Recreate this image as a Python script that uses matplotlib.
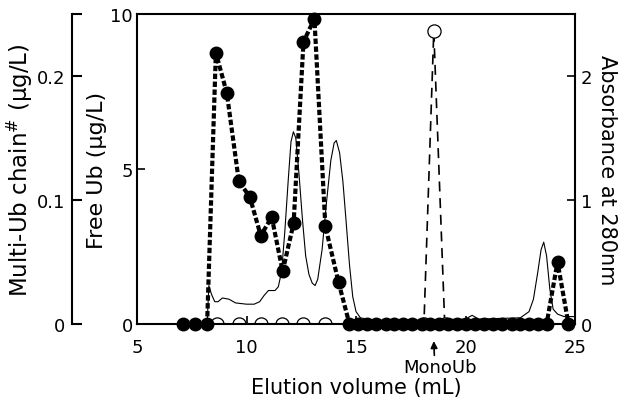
import matplotlib
matplotlib.use("Agg")
import matplotlib.pyplot as plt

plt.rcParams["font.family"] = ["DejaVu Sans"]

# Free Ub (filled circles, middle axis)
free_x = [7.1, 7.65, 8.2, 8.6, 9.1, 9.65, 10.15, 10.65, 11.15, 11.65, 12.15, 12.6,
          13.1, 13.6, 14.2, 14.7, 15.1, 15.5, 15.9, 16.35, 16.75, 17.15, 17.55,
          18.0, 18.4, 18.8, 19.2, 19.6, 20.0, 20.45, 20.85, 21.25, 21.65, 22.1,
          22.5, 22.9, 23.3, 23.7, 24.2, 24.7]
free_y = [0, 0, 0, 8.75, 7.45, 4.6, 4.1, 2.85, 3.45, 1.7, 3.25, 9.1,
          9.85, 3.15, 1.35, 0, 0, 0, 0, 0, 0, 0, 0,
          0, 0, 0, 0, 0, 0, 0, 0, 0, 0, 0,
          0, 0, 0, 0, 2.0, 0]

# Multi-Ub chain (open circles, far left axis)
multi_x = [8.65, 9.65, 10.65, 11.6, 12.6, 13.6, 18.1, 18.55, 19.05]
multi_y = [0, 0, 0, 0, 0, 0, 0, 0.236, 0]

# Absorbance at 280 nm (thin line, right axis)
abs_x = [5.0, 8.2, 8.28, 8.4, 8.55, 8.7, 8.9, 9.2, 9.5, 10.0, 10.35, 10.6, 10.8,
         11.0, 11.3, 11.45, 11.6, 11.75, 11.9, 12.03, 12.14, 12.25, 12.4, 12.55,
         12.7, 12.85, 13.0, 13.13, 13.25, 13.45, 13.65, 13.85, 14.0, 14.1, 14.25,
         14.4, 14.55, 14.7, 14.85, 15.0, 15.2, 15.5, 16.0, 18.0, 20.0, 20.3, 20.6,
         22.5, 22.9, 23.1, 23.3, 23.45, 23.57, 23.7, 23.85, 24.0, 24.2, 24.5, 25.0]
abs_y = [0, 0, 0.31, 0.24, 0.18, 0.18, 0.21, 0.2, 0.17, 0.16, 0.16, 0.18, 0.23,
         0.27, 0.27, 0.3, 0.42, 0.75, 1.15, 1.47, 1.55, 1.5, 1.2, 0.85,
         0.55, 0.4, 0.33, 0.31, 0.36, 0.6, 0.98, 1.32, 1.46, 1.48, 1.38,
         1.15, 0.82, 0.48, 0.22, 0.1, 0.05, 0.04, 0.03, 0.03, 0.04, 0.07, 0.04,
         0.05, 0.1, 0.2, 0.42, 0.6, 0.66, 0.55, 0.28, 0.12, 0.08, 0.06, 0.06]

fig = plt.figure(figsize=(6.22, 4.02), dpi=100)
ax = fig.add_axes([0.2203, 0.1915, 0.7042, 0.7712])
ax_multi = ax.twinx()
ax_abs = ax.twinx()

ax_abs.set_zorder(1)
ax_multi.set_zorder(2)
ax.set_zorder(3)
ax.patch.set_visible(False)
ax_multi.patch.set_visible(False)

# absorbance trace
ax_abs.plot(abs_x, abs_y, color="black", lw=0.8)
ax_abs.set_ylim(0, 2.5)
ax_abs.set_yticks([0, 1, 2])
ax_abs.set_yticklabels(["0", "1", "2"])
ax_abs.tick_params(axis="y", direction="in", length=6, width=1.2, labelsize=13, pad=4)
ax_abs.set_ylabel("Absorbance at 280nm", fontsize=15, rotation=270, labelpad=18)
for s in ["left", "top", "bottom"]:
    ax_abs.spines[s].set_visible(False)
ax_abs.spines["right"].set_linewidth(1.5)

# multi-Ub chain axis
ax_multi.plot(multi_x, multi_y, color="black", lw=1.2, ls=(0, (6, 4)),
              marker="o", ms=9.5, mfc="white", mec="black", mew=0.9)
ax_multi.set_ylim(0, 0.25)
ax_multi.yaxis.set_ticks_position("left")
ax_multi.yaxis.set_label_position("left")
ax_multi.spines["left"].set_position(("axes", -0.148))
ax_multi.spines["left"].set_visible(True)
ax_multi.spines["left"].set_linewidth(1.5)
for s in ["right", "top", "bottom"]:
    ax_multi.spines[s].set_visible(False)
ax_multi.set_yticks([0, 0.1, 0.2, 0.25])
ax_multi.set_yticklabels(["0", "0.1", "0.2", ""])
ax_multi.tick_params(axis="y", direction="in", length=7, width=1.5, labelsize=13, pad=5)
ax_multi.set_ylabel("Multi-Ub chain$^{\\#}$ (\u03bcg/L)", fontsize=16.5, labelpad=1)

# free Ub
ax.plot(free_x, free_y, color="black", lw=3, ls=(0, (1.3, 0.6)),
        marker="o", ms=9, mfc="black", mec="black", clip_on=False)
ax.set_xlim(5, 25)
ax.set_ylim(0, 10)
ax.set_xticks([5, 10, 15, 20, 25])
ax.set_yticks([0, 5, 10])
ax.tick_params(axis="both", direction="in", length=6, width=1.2, labelsize=13)
ax.tick_params(axis="y", pad=3)
ax.tick_params(axis="x", pad=10)
ax.set_ylabel("Free Ub (\u03bcg/L)", fontsize=16, labelpad=2)
ax.set_xlabel("Elution volume (mL)", fontsize=15, labelpad=15)
for s in ["left", "bottom", "top"]:
    ax.spines[s].set_linewidth(1.5)
ax.spines["right"].set_visible(False)

ax.annotate("MonoUb", xy=(18.55, -0.55), xytext=(18.85, -1.1),
            ha="center", va="top", fontsize=13, annotation_clip=False,
            arrowprops=dict(arrowstyle="-|>", color="black", lw=1.2,
                            mutation_scale=10, shrinkA=0, shrinkB=0,
                            relpos=(0.42, 1.0)))

fig.savefig("out.png", dpi=100)
